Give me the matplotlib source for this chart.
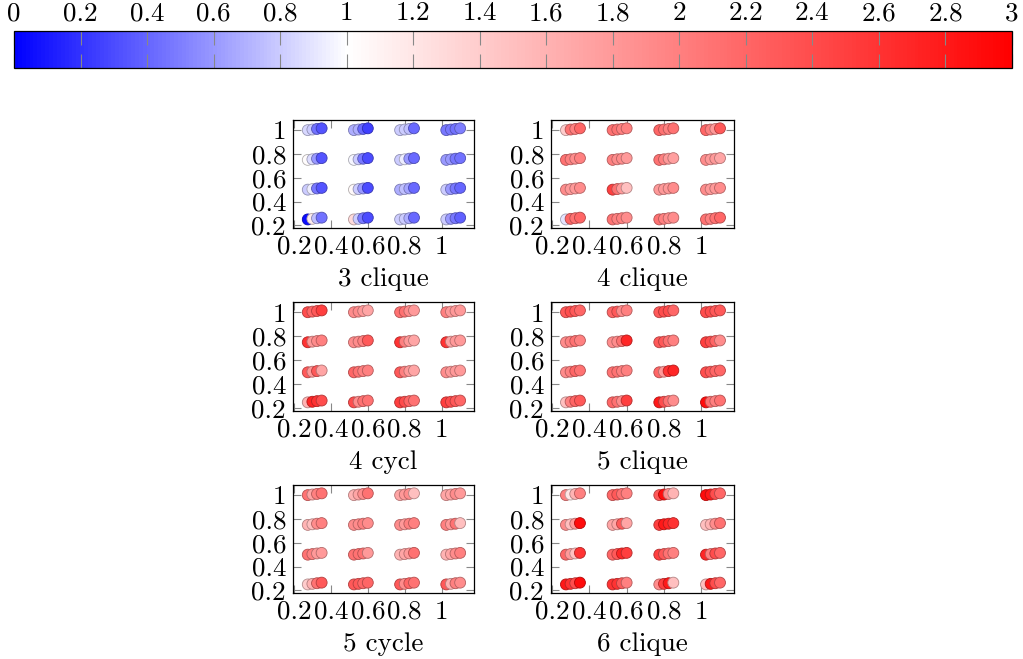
import numpy as np
import matplotlib
matplotlib.use('Agg')
import matplotlib.pyplot as plt
from matplotlib.colors import LinearSegmentedColormap, Normalize
from matplotlib.cm import ScalarMappable

plt.rcParams['font.family'] = 'serif'
plt.rcParams['font.serif'] = ['cmr10']
plt.rcParams['axes.formatter.use_mathtext'] = True

# grid of parameter values and the shift of the four variants in each cluster
p_values = [0.25, 0.5, 0.75, 1.0]
q_values = [1.0, 0.75, 0.5, 0.25]          # rows, top to bottom
variant_dx = [0.025, 0.05, 0.075, 0.1]
variant_dy = [0.0, 0.005, 0.01, 0.015]

# ratio values, [row][column][variant]
clique3 = [
    [[0.85, 0.8, 0.45, 0.33], [0.68, 0.68, 0.42, 0.25], [0.8, 0.8, 0.75, 0.42], [0.48, 0.48, 0.45, 0.5]],
    [[1.03, 0.87, 0.6, 0.33], [0.97, 0.8, 0.48, 0.3], [0.8, 0.93, 0.6, 0.42], [0.6, 0.6, 0.48, 0.45]],
    [[0.8, 0.93, 0.48, 0.33], [1.05, 0.8, 0.6, 0.3], [0.68, 0.75, 0.65, 0.42], [0.8, 0.6, 0.48, 0.4]],
    [[0.05, 1.15, 0.75, 0.45], [1.3, 0.8, 0.48, 0.3], [0.8, 0.8, 0.68, 0.42], [0.8, 0.6, 0.48, 0.38]],
]
clique4 = [
    [[1.4, 2.1, 2.0, 2.2], [2.1, 2.1, 2.0, 2.0], [2.2, 2.1, 2.0, 2.1], [2.2, 2.0, 1.8, 2.3]],
    [[2.1, 2.0, 1.9, 2.0], [2.0, 1.9, 1.9, 1.8], [2.1, 2.0, 1.8, 1.75], [1.9, 1.8, 1.8, 1.7]],
    [[1.9, 1.8, 1.8, 1.9], [2.5, 2.1, 1.8, 1.5], [1.8, 1.8, 1.8, 1.9], [1.9, 1.8, 1.8, 1.9]],
    [[0.9, 2.2, 2.1, 2.2], [2.1, 2.0, 2.0, 1.9], [2.1, 2.0, 1.9, 1.9], [2.1, 2.0, 2.1, 2.2]],
]
cycle4 = [
    [[2.4, 2.2, 2.3, 2.5], [1.9, 1.9, 1.8, 1.7], [2.1, 2.1, 1.9, 1.8], [2.0, 1.8, 1.8, 1.8]],
    [[2.6, 1.8, 1.9, 2.0], [1.9, 1.9, 2.0, 2.3], [2.6, 2.0, 1.8, 1.7], [2.6, 1.7, 1.8, 1.8]],
    [[2.3, 1.8, 2.3, 1.7], [2.2, 2.1, 2.0, 2.0], [2.3, 2.0, 1.8, 1.7], [1.9, 1.8, 1.8, 1.8]],
    [[1.6, 2.7, 2.6, 2.4], [2.4, 1.9, 2.1, 2.1], [2.5, 2.4, 2.2, 2.1], [2.5, 2.4, 2.3, 2.2]],
]
clique5 = [
    [[2.3, 2.4, 2.3, 2.2], [2.2, 2.3, 1.9, 2.0], [2.3, 2.4, 2.4, 2.2], [2.4, 2.4, 2.3, 2.3]],
    [[1.9, 2.0, 2.1, 2.0], [1.9, 1.9, 2.1, 2.7], [2.3, 2.3, 2.1, 2.0], [2.5, 2.4, 2.2, 1.9]],
    [[1.9, 2.0, 2.2, 2.1], [2.1, 2.1, 2.0, 2.0], [2.2, 1.8, 2.6, 2.7], [2.4, 2.3, 2.2, 2.2]],
    [[1.5, 2.0, 2.2, 2.3], [2.2, 2.1, 1.9, 2.5], [2.8, 2.4, 2.1, 1.9], [2.9, 2.1, 2.0, 2.1]],
]
cycle5 = [
    [[2.1, 1.7, 2.0, 2.1], [1.6, 1.7, 1.9, 2.1], [1.7, 1.8, 1.9, 1.5], [1.7, 1.7, 1.9, 1.8]],
    [[1.6, 1.5, 1.9, 2.0], [1.9, 1.9, 2.0, 1.9], [1.9, 1.8, 2.0, 2.0], [2.0, 1.8, 2.1, 1.5]],
    [[2.1, 2.0, 1.8, 1.8], [2.1, 2.1, 2.1, 1.8], [1.6, 1.7, 1.8, 2.1], [1.6, 1.7, 1.9, 2.0]],
    [[1.4, 1.6, 2.1, 2.3], [2.3, 2.3, 2.2, 2.2], [2.3, 1.9, 2.2, 2.1], [2.3, 1.6, 2.0, 1.9]],
]
clique6 = [
    [[2.0, 1.2, 1.6, 2.0], [2.2, 2.3, 2.1, 2.0], [2.3, 2.9, 1.9, 1.6], [2.9, 2.8, 2.4, 2.2]],
    [[1.9, 1.5, 1.8, 2.9], [1.7, 1.7, 2.3, 1.7], [2.5, 2.8, 2.7, 2.6], [1.5, 1.6, 1.9, 2.1]],
    [[2.2, 1.8, 1.5, 2.6], [2.2, 2.3, 2.7, 2.5], [2.5, 2.3, 2.1, 2.0], [2.7, 2.0, 2.4, 2.2]],
    [[2.8, 2.6, 2.4, 2.9], [2.6, 2.6, 2.3, 2.0], [1.9, 2.5, 2.8, 1.5], [1.5, 2.8, 2.4, 2.2]],
]

panels = [('3 clique', clique3), ('4 clique', clique4),
          ('4 cycl', cycle4), ('5 clique', clique5),
          ('5 cycle', cycle5), ('6 clique', clique6)]

axis_ticks = [0.2, 0.4, 0.6, 0.8, 1.0]
axis_tick_labels = ['0.2', '0.4', '0.6', '0.8', '1']
cbar_ticks = [round(0.2 * i, 1) for i in range(16)]
cbar_tick_labels = ['0', '0.2', '0.4', '0.6', '0.8', '1', '1.2', '1.4', '1.6', '1.8',
                    '2', '2.2', '2.4', '2.6', '2.8', '3']

W, H = 1023, 659
FS = 19.5

cmap = LinearSegmentedColormap.from_list('bwr3', [(0, 'blue'), (1 / 3, 'white'), (1, 'red')])
norm = Normalize(vmin=0, vmax=3)


def px_rect(x0, y0, x1, y1):
    return [x0 / W, 1 - y1 / H, (x1 - x0) / W, (y1 - y0) / H]


def draw_panel(ax, label, values):
    xs, ys, cs = [], [], []
    for r, q in enumerate(q_values):
        for c, p in enumerate(p_values):
            for k in range(4):
                xs.append(p + variant_dx[k])
                ys.append(q + variant_dy[k])
                cs.append(values[r][c][k])
    face = cmap(norm(np.array(cs)))
    edge = face.copy()
    edge[:, :3] *= 0.7
    ax.scatter(xs, ys, s=62, c=face, edgecolors=edge, linewidths=0.6, zorder=3)
    ax.set_xlim(0.195, 1.175)
    ax.set_ylim(0.178, 1.085)
    ax.set_xticks(axis_ticks, axis_tick_labels)
    ax.set_yticks(axis_ticks, axis_tick_labels)
    ax.tick_params(direction='in', length=6, width=0.8, color='#888888',
                   top=True, right=True, labelsize=FS, pad=5)
    for s in ax.spines.values():
        s.set_linewidth(0.9)
    ax.set_xlabel(label, fontsize=FS, labelpad=6)


fig = plt.figure(figsize=(W / 100, H / 100), dpi=100)

cols = [(293, 474), (551, 734)]
rows = [(120, 228), (302, 411), (485, 593)]
for i, (label, values) in enumerate(panels):
    x0, x1 = cols[i % 2]
    y0, y1 = rows[i // 2]
    ax = fig.add_axes(px_rect(x0, y0, x1, y1))
    draw_panel(ax, label, values)

cax = fig.add_axes(px_rect(14, 31, 1012, 68))
cb = fig.colorbar(ScalarMappable(norm=norm, cmap=cmap), cax=cax, orientation='horizontal')
cb.set_ticks(cbar_ticks, labels=cbar_tick_labels)
cax.xaxis.set_ticks_position('both')
cax.tick_params(direction='in', length=10, width=0.8, color='#888888',
                top=True, bottom=True, labeltop=True, labelbottom=False,
                labelsize=FS, pad=4)
cb.outline.set_linewidth(0.9)

fig.savefig('out.png', dpi=100)
